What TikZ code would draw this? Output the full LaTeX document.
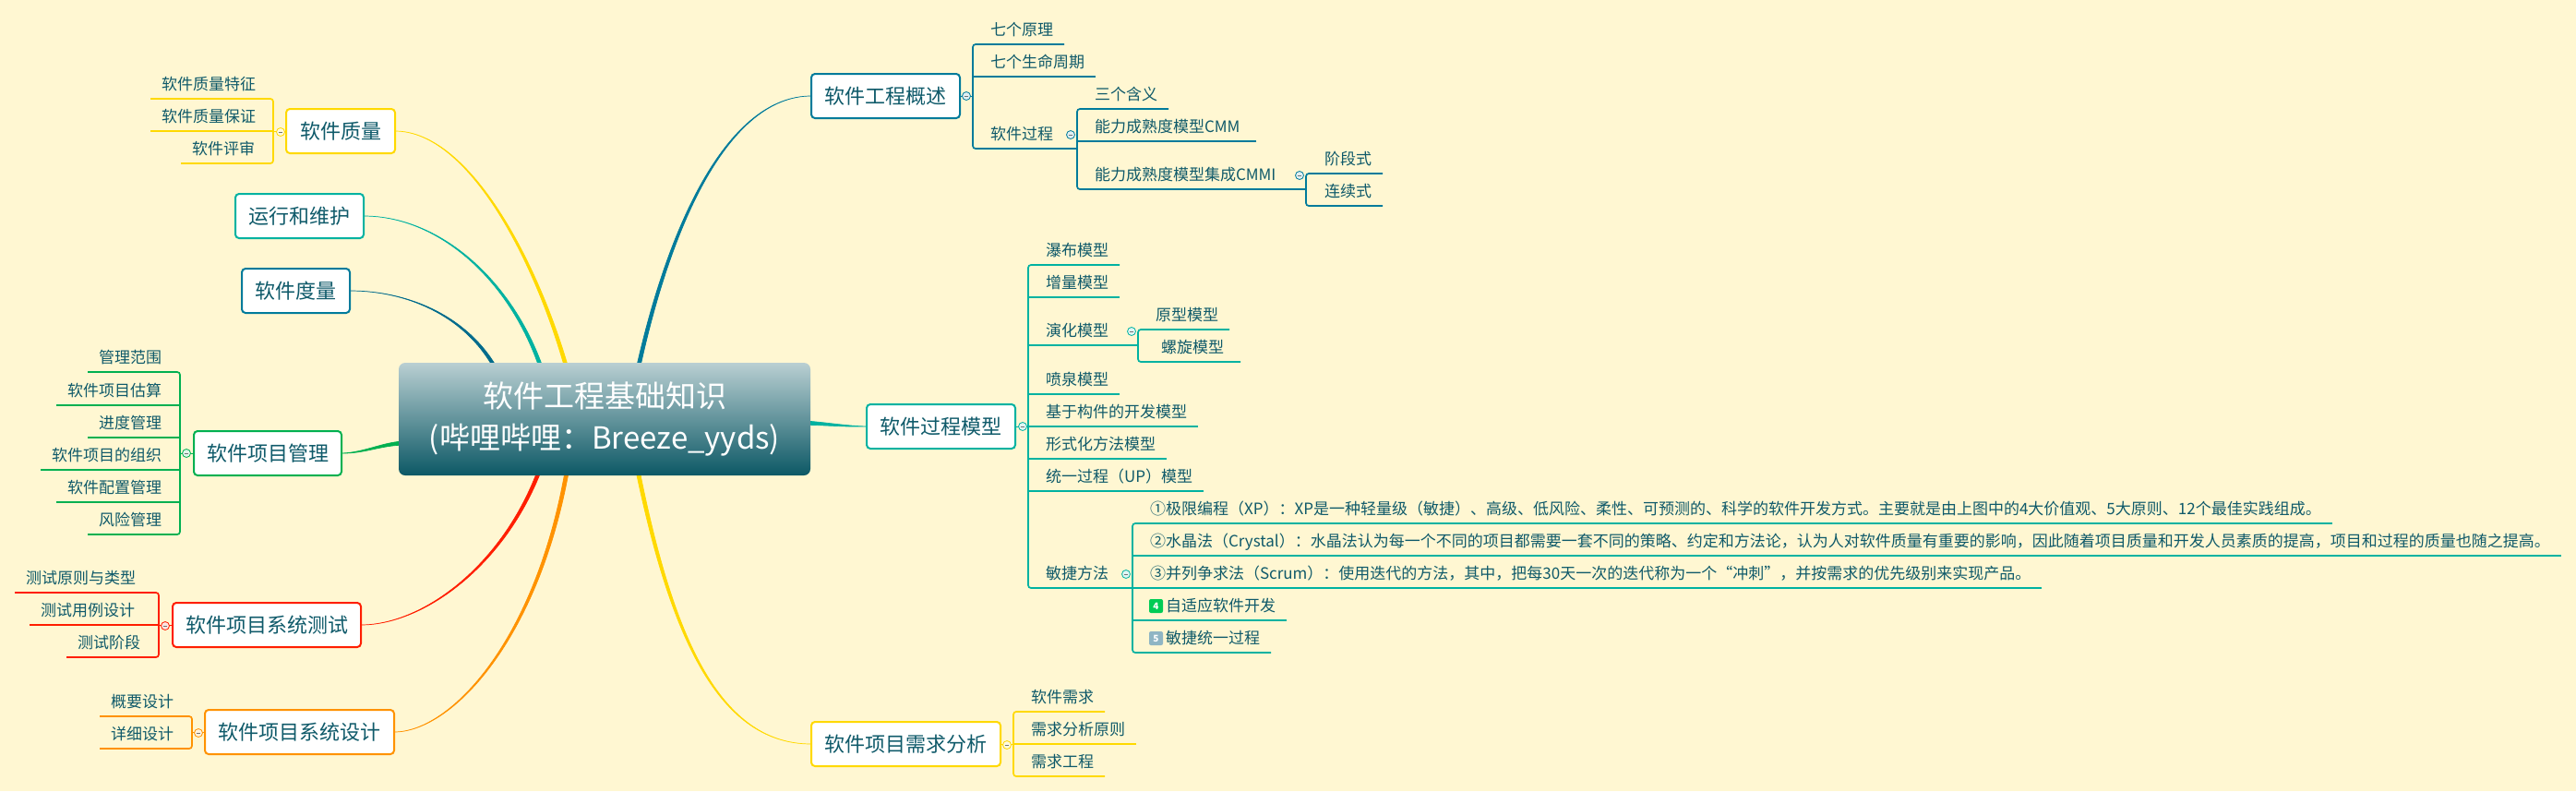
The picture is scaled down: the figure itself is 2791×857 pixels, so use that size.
\documentclass[tikz,border=0pt]{standalone}
\usepackage{fontspec}
\setmainfont{Noto Sans CJK SC}
\usetikzlibrary{calc}
\pgfdeclarelayer{limbs}
\pgfsetlayers{limbs,main}
\definecolor{paper}{HTML}{FFF7D2}
\definecolor{ink}{HTML}{0F5A6A}
\definecolor{roottop}{HTML}{B9CFD2}
\definecolor{rootbot}{HTML}{0C5865}
\definecolor{myellow}{HTML}{FFD900}
\definecolor{mteal}{HTML}{00B2A1}
\definecolor{mblue}{HTML}{007B9B}
\definecolor{mdeep}{HTML}{006B8C}
\definecolor{mgreen}{HTML}{00B050}
\definecolor{mred}{HTML}{FF1E00}
\definecolor{morange}{HTML}{FF9200}
\definecolor{bfour}{HTML}{00CC55}
\definecolor{bfive}{HTML}{8FB5C4}
\tikzset{
  hub/.style={draw=#1, fill=white, line width=2, rounded corners=4, outer sep=0, inner sep=0, minimum height=48, text=ink, font=\fontsize{22}{26}\selectfont},
  leaf/.style={anchor=west, outer sep=0, inner xsep=12, inner ysep=0, minimum height=32, text height=15, text depth=2, text=ink, font=\fontsize{17}{20}\selectfont},
  twig/.style={draw=#1, line width=1.7, rounded corners=3},
  fold/.style={circle, draw=#1, fill=#1!12, line width=.8, inner sep=0, minimum size=9, path picture={\draw[black!55, line width=.7] ([xshift=-2.4]path picture bounding box.center) -- ([xshift=2.4]path picture bounding box.center);}},
  badge/.style={fill=#1, rounded corners=2, inner sep=0, minimum size=15, text=white, font=\fontsize{10}{10}\selectfont\bfseries}
}
\newcommand{\limb}[6]{\filldraw[draw=#1, fill=#1, line width=.7] (#6) .. controls ($#5+.3*#2$) and ($#4+.7*#2$) .. ($(#3)+#2$) -- ($(#3)-#2$) .. controls ($#4-.7*#2$) and ($#5-.3*#2$) .. (#6);}
\begin{document}
\begin{tikzpicture}[x=1pt,y=-1pt]
\useasboundingbox (0,0) rectangle (2791,857);
\begin{pgfonlayer}{limbs}
\fill[paper] (0,0) rectangle (2791,857);
\end{pgfonlayer}

\node[top color=roottop, bottom color=rootbot, rounded corners=7, outer sep=0, inner sep=0, minimum width=446, minimum height=122, text=white, align=center, font=\fontsize{33}{45}\selectfont] (root) at (655,454) {软件工程基础知识\\(哔哩哔哩：Breeze\_yyds)};

\node[hub=myellow, minimum width=118] (qual) at (369,142) {软件质量};
\node[hub=mteal, minimum width=139] (run) at (324.5,234) {运行和维护};
\node[hub=mblue, minimum width=117] (metric) at (320.5,315) {软件度量};
\node[hub=mgreen, minimum width=160] (mgmt) at (290,491) {软件项目管理};
\node[hub=mred, minimum width=204] (test) at (289,677) {软件项目系统测试};
\node[hub=morange, minimum width=205] (design) at (324.5,793) {软件项目系统设计};
\node[hub=mblue, minimum width=161] (over) at (959.5,104) {软件工程概述};
\node[hub=mteal, minimum width=161] (proc) at (1019.5,462) {软件过程模型};
\node[hub=myellow, minimum width=205] (req) at (981.5,806) {软件项目需求分析};

\coordinate (root-qual) at (617,410);
\coordinate (root-run) at (590,410);
\coordinate (root-metric) at (540,405);
\coordinate (root-mgmt) at (440,480);
\coordinate (root-test) at (588,500);
\coordinate (root-design) at (616,500);
\coordinate (root-over) at (689,410);
\coordinate (root-proc) at (870,458);
\coordinate (root-req) at (689,500);

\begin{pgfonlayer}{limbs}
\limb{myellow}{(2.1,0)}{root-qual}{(585,290)}{(510,142)}{qual.east}
\limb{mteal}{(2.1,0)}{root-run}{(560,310)}{(480,234)}{run.east}
\limb{mdeep}{(2.1,0)}{root-metric}{(510,345)}{(445,315)}{metric.east}
\limb{mgreen}{(0,2.2)}{root-mgmt}{(415,480)}{(395,491)}{mgmt.east}
\limb{mred}{(2.1,0)}{root-test}{(550,610)}{(460,677)}{test.east}
\limb{morange}{(2.1,0)}{root-design}{(585,690)}{(490,793)}{design.east}
\limb{mblue}{(2.1,0)}{root-over}{(725,240)}{(790,104)}{over.west}
\limb{mteal}{(0,2.2)}{root-proc}{(895,459)}{(915,462)}{proc.west}
\limb{myellow}{(2.1,0)}{root-req}{(725,680)}{(775,806)}{req.west}
\end{pgfonlayer}

\node[leaf] (q-spec) at (163,91) {软件质量特征};
\node[leaf] (q-ens) at (163,126) {软件质量保证};
\node[leaf] (q-rev) at (196,161) {软件评审};
\coordinate (q-trunk) at (296,142);
\draw[twig=myellow] (q-spec.south west) -- (q-spec.south -| q-trunk) -- (q-rev.south -| q-trunk) -- (q-rev.south west);
\draw[twig=myellow] (q-ens.south west) -- (q-ens.south -| q-trunk);
\draw[myellow, line width=1] (qual.west) -- (qual.west -| q-trunk);
\node[fold=myellow] (q-fold) at (304,143) {};

\node[leaf] (m-scope) at (95,387) {管理范围};
\node[leaf] (m-cost) at (61,423) {软件项目估算};
\node[leaf] (m-plan) at (95,458) {进度管理};
\node[leaf] (m-org) at (44,493) {软件项目的组织};
\node[leaf] (m-conf) at (61,528) {软件配置管理};
\node[leaf] (m-risk) at (95,563) {风险管理};
\coordinate (m-trunk) at (195,491);
\draw[twig=mgreen] (m-scope.south west) -- (m-scope.south -| m-trunk) -- (m-risk.south -| m-trunk) -- (m-risk.south west);
\draw[twig=mgreen] (m-cost.south west) -- (m-cost.south -| m-trunk);
\draw[twig=mgreen] (m-plan.south west) -- (m-plan.south -| m-trunk);
\draw[twig=mgreen] (m-org.south west) -- (m-org.south -| m-trunk);
\draw[twig=mgreen] (m-conf.south west) -- (m-conf.south -| m-trunk);
\draw[mgreen, line width=1] (mgmt.west) -- (mgmt.west -| m-trunk);
\node[fold=mgreen] (m-fold) at (202,491) {};

\node[leaf] (t-kind) at (16,626) {测试原则与类型};
\node[leaf] (t-case) at (32,661) {测试用例设计};
\node[leaf] (t-stage) at (72,696) {测试阶段};
\coordinate (t-trunk) at (172,677);
\draw[twig=mred] (t-kind.south west) -- (t-kind.south -| t-trunk) -- (t-stage.south -| t-trunk) -- (t-stage.south west);
\draw[twig=mred] (t-case.south west) -- (t-case.south -| t-trunk);
\draw[mred, line width=1] (test.west) -- (test.west -| t-trunk);
\node[fold=mred] (t-fold) at (179,678) {};

\node[leaf] (d-out) at (108,760) {概要设计};
\node[leaf] (d-det) at (108,795) {详细设计};
\coordinate (d-trunk) at (208,793);
\draw[twig=morange] (d-out.south west) -- (d-out.south -| d-trunk) -- (d-det.south -| d-trunk) -- (d-det.south west);
\draw[morange, line width=1] (design.west) -- (design.west -| d-trunk);
\node[fold=morange] (d-fold) at (215,794) {};

\node[leaf] (o-rule) at (1061,32) {七个原理};
\node[leaf] (o-life) at (1061,67) {七个生命周期};
\node[leaf] (o-proc) at (1061,145) {软件过程};
\node[leaf] (p-three) at (1174,102) {三个含义};
\node[leaf] (p-cmm) at (1174,137) {能力成熟度模型CMM};
\node[leaf] (p-cmmi) at (1174,189) {能力成熟度模型集成CMMI};
\node[leaf] (c-stage) at (1423,172) {阶段式};
\node[leaf] (c-cont) at (1423,207) {连续式};
\coordinate (o-trunk) at (1054,104);
\coordinate (p-trunk) at (1167,161);
\coordinate (c-trunk) at (1415,205);
\draw[twig=mblue] (o-rule.south east) -- (o-rule.south -| o-trunk) -- (o-proc.south -| o-trunk) -- (o-proc.south -| p-trunk);
\draw[twig=mblue] (o-life.south east) -- (o-life.south -| o-trunk);
\draw[twig=mblue] (p-three.south east) -- (p-three.south -| p-trunk) -- (p-cmmi.south -| p-trunk) -- (p-cmmi.south -| c-trunk);
\draw[twig=mblue] ([xshift=6]p-cmm.south east) -- (p-cmm.south -| p-trunk);
\draw[twig=mblue] (c-stage.south east) -- (c-stage.south -| c-trunk) -- (c-cont.south -| c-trunk) -- (c-cont.south east);
\draw[mblue, line width=1] (over.east) -- (over.east -| o-trunk);
\node[fold=mblue] (o-fold) at (1047,104) {};
\node[fold=mblue] (p-fold) at (1160,146) {};
\node[fold=mblue] (c-fold) at (1408,190) {};

\node[leaf] (s-fall) at (1121,271) {瀑布模型};
\node[leaf] (s-inc) at (1121,306) {增量模型};
\node[leaf] (s-evo) at (1121,358) {演化模型};
\node[leaf] (s-foun) at (1121,411) {喷泉模型};
\node[leaf] (s-comp) at (1121,446) {基于构件的开发模型};
\node[leaf] (s-form) at (1121,481) {形式化方法模型};
\node[leaf] (s-up) at (1121,516) {统一过程（UP）模型};
\node[leaf] (s-agile) at (1121,621) {敏捷方法};
\node[leaf] (e-proto) at (1240,341) {原型模型};
\node[leaf] (e-spiral) at (1246,376) {螺旋模型};
\node[leaf] (a-xp) at (1234,551) {①极限编程（XP）：XP是一种轻量级（敏捷）、高级、低风险、柔性、可预测的、科学的软件开发方式。主要就是由上图中的4大价值观、5大原则、12个最佳实践组成。};
\node[leaf] (a-cry) at (1234,586) {②水晶法（Crystal）：水晶法认为每一个不同的项目都需要一套不同的策略、约定和方法论，认为人对软件质量有重要的影响，因此随着项目质量和开发人员素质的提高，项目和过程的质量也随之提高。};
\node[leaf] (a-scr) at (1234,621) {③并列争求法（Scrum）：使用迭代的方法，其中，把每30天一次的迭代称为一个“冲刺”，并按需求的优先级别来实现产品。};
\node[leaf] (a-ada) at (1251,656) {自适应软件开发};
\node[leaf] (a-uni) at (1251,691) {敏捷统一过程};
\node[badge=bfour] (a-four) at (1252.5,656.5) {4};
\node[badge=bfive] (a-five) at (1252.5,691.5) {5};
\coordinate (s-trunk) at (1114,462);
\coordinate (e-trunk) at (1233,374);
\coordinate (a-trunk) at (1227,637);
\draw[twig=mteal] (s-fall.south east) -- (s-fall.south -| s-trunk) -- (s-agile.south -| s-trunk) -- (s-agile.south -| a-trunk);
\draw[twig=mteal] (s-inc.south east) -- (s-inc.south -| s-trunk);
\draw[twig=mteal] (s-evo.south -| s-trunk) -- (s-evo.south -| e-trunk);
\draw[twig=mteal] (s-foun.south east) -- (s-foun.south -| s-trunk);
\draw[twig=mteal] (s-comp.south east) -- (s-comp.south -| s-trunk);
\draw[twig=mteal] (s-form.south east) -- (s-form.south -| s-trunk);
\draw[twig=mteal] (s-up.south east) -- (s-up.south -| s-trunk);
\draw[twig=mteal] (e-proto.south east) -- (e-proto.south -| e-trunk) -- (e-spiral.south -| e-trunk) -- ([xshift=6]e-spiral.south east);
\draw[twig=mteal] (a-xp.south east) -- (a-xp.south -| a-trunk) -- (a-uni.south -| a-trunk) -- (a-uni.south east);
\draw[twig=mteal] (a-cry.south east) -- (a-cry.south -| a-trunk);
\draw[twig=mteal] (a-scr.south east) -- (a-scr.south -| a-trunk);
\draw[twig=mteal] (a-ada.south east) -- (a-ada.south -| a-trunk);
\draw[mteal, line width=1] (proc.east) -- (proc.east -| s-trunk);
\node[fold=mteal] (s-fold) at (1108,462) {};
\node[fold=mteal] (e-fold) at (1226,359) {};
\node[fold=mteal] (a-fold) at (1220,622) {};

\node[leaf] (r-need) at (1105,755) {软件需求};
\node[leaf] (r-rule) at (1105,790) {需求分析原则};
\node[leaf] (r-eng) at (1105,825) {需求工程};
\coordinate (r-trunk) at (1098,806);
\draw[twig=myellow] (r-need.south east) -- (r-need.south -| r-trunk) -- (r-eng.south -| r-trunk) -- (r-eng.south east);
\draw[twig=myellow] (r-rule.south east) -- (r-rule.south -| r-trunk);
\draw[myellow, line width=1] (req.east) -- (req.east -| r-trunk);
\node[fold=myellow] (r-fold) at (1091,807) {};

\end{tikzpicture}
\end{document}
